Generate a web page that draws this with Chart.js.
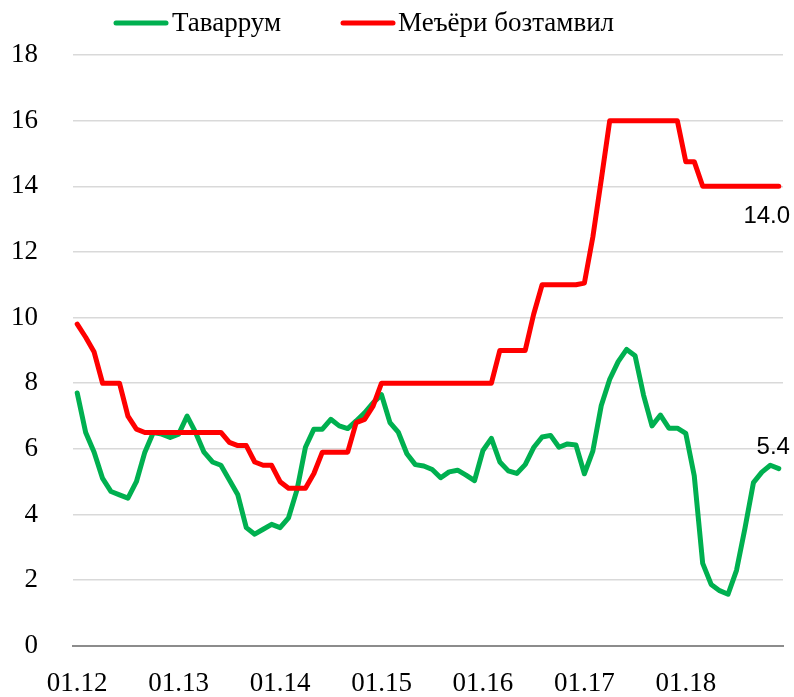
<!DOCTYPE html>
<html>
<head>
<meta charset="utf-8">
<script src="https://cdn.jsdelivr.net/npm/chart.js@4.4.1/dist/chart.umd.min.js"></script>
<style>
html,body{margin:0;padding:0;background:#ffffff;}
#wrap{width:794px;height:697px;}
</style>
</head>
<body>
<div id="wrap"><canvas id="c" width="794" height="697"></canvas></div>
<script>
// ---- data ----
const months = [
  "01.12","02.12","03.12","04.12","05.12","06.12","07.12","08.12","09.12","10.12","11.12","12.12",
  "01.13","02.13","03.13","04.13","05.13","06.13","07.13","08.13","09.13","10.13","11.13","12.13",
  "01.14","02.14","03.14","04.14","05.14","06.14","07.14","08.14","09.14","10.14","11.14","12.14",
  "01.15","02.15","03.15","04.15","05.15","06.15","07.15","08.15","09.15","10.15","11.15","12.15",
  "01.16","02.16","03.16","04.16","05.16","06.16","07.16","08.16","09.16","10.16","11.16","12.16",
  "01.17","02.17","03.17","04.17","05.17","06.17","07.17","08.17","09.17","10.17","11.17","12.17",
  "01.18","02.18","03.18","04.18","05.18","06.18","07.18","08.18","09.18","10.18","11.18","12.18"
];
const seriesNames = ["Таваррум", "Меъёри бозтамвил"];
const inflation = [
  7.7, 6.5, 5.9, 5.1, 4.7, 4.6, 4.5, 5.0, 5.9, 6.5, 6.45, 6.35,
  6.45, 7.0, 6.5, 5.9, 5.6, 5.5, 5.05, 4.6, 3.6, 3.4, 3.55, 3.7,
  3.6, 3.9, 4.75, 6.05, 6.6, 6.6, 6.9, 6.7, 6.62, 6.85, 7.1, 7.4,
  7.65, 6.8, 6.5, 5.85, 5.52, 5.48, 5.37, 5.12, 5.3, 5.35, 5.2, 5.03,
  5.95, 6.32, 5.6, 5.33, 5.25, 5.52, 6.04, 6.36, 6.41, 6.05, 6.15, 6.12,
  5.24, 5.93, 7.32, 8.12, 8.66, 9.03, 8.84, 7.64, 6.7, 7.03, 6.63, 6.63,
  6.47, 5.18, 2.51, 1.87, 1.68, 1.57, 2.3, 3.58, 4.97, 5.29, 5.5, 5.4
];
const refinancingRate = [
  9.8, 9.4, 8.95, 8.0, 8.0, 8.0, 7.0, 6.6, 6.5, 6.5, 6.5, 6.5,
  6.5, 6.5, 6.5, 6.5, 6.5, 6.5, 6.2, 6.1, 6.1, 5.6, 5.5, 5.5,
  5.0, 4.8, 4.8, 4.8, 5.25, 5.9, 5.9, 5.9, 5.9, 6.8, 6.9, 7.3,
  8.0, 8.0, 8.0, 8.0, 8.0, 8.0, 8.0, 8.0, 8.0, 8.0, 8.0, 8.0,
  8.0, 8.0, 9.0, 9.0, 9.0, 9.0, 10.1, 11.0, 11.0, 11.0, 11.0, 11.0,
  11.05, 12.45, 14.2, 16.0, 16.0, 16.0, 16.0, 16.0, 16.0, 16.0, 16.0, 16.0,
  14.75, 14.75, 14.0, 14.0, 14.0, 14.0, 14.0, 14.0, 14.0, 14.0, 14.0, 14.0
];
const yMin = 0, yMax = 18, yStep = 2;

// ---- plugins ----
const customLegend = {
  id: 'customLegend',
  afterDraw(chart, args, opts) {
    const ctx = chart.ctx;
    ctx.save();
    chart.data.datasets.forEach((ds, i) => {
      const it = opts.items[i];
      ctx.strokeStyle = ds.borderColor;
      ctx.lineWidth = opts.lineWidth;
      ctx.lineCap = 'round';
      ctx.beginPath();
      ctx.moveTo(it.x1, opts.y);
      ctx.lineTo(it.x2, opts.y);
      ctx.stroke();
      ctx.font = opts.font;
      ctx.fillStyle = opts.color;
      ctx.textAlign = 'left';
      ctx.textBaseline = 'alphabetic';
      ctx.fillText(ds.label, it.tx, opts.baseline);
    });
    ctx.restore();
  }
};
const endLabels = {
  id: 'endLabels',
  afterDatasetsDraw(chart, args, opts) {
    const ctx = chart.ctx;
    ctx.save();
    ctx.font = opts.font;
    ctx.fillStyle = opts.color;
    ctx.textAlign = 'center';
    ctx.textBaseline = 'middle';
    chart.data.datasets.forEach((ds, i) => {
      const meta = chart.getDatasetMeta(i);
      const pt = meta.data[meta.data.length - 1];
      const v = ds.data[ds.data.length - 1];
      const off = opts.offsets[i];
      ctx.fillText(v.toFixed(1), pt.x + off.dx, pt.y + off.dy);
    });
    ctx.restore();
  }
};

new Chart(document.getElementById('c'), {
  type: 'line',
  data: {
    labels: months,
    datasets: [
      { label: seriesNames[0], data: inflation, borderColor: '#00b050', backgroundColor: '#00b050',
        borderWidth: 5, pointRadius: 0, tension: 0, fill: false, borderJoinStyle: 'round', borderCapStyle: 'round', order: 1 },
      { label: seriesNames[1], data: refinancingRate, borderColor: '#ff0000', backgroundColor: '#ff0000',
        borderWidth: 5, pointRadius: 0, tension: 0, fill: false, borderJoinStyle: 'round', borderCapStyle: 'round', order: 0 }
    ]
  },
  options: {
    responsive: false,
    animation: false,
    devicePixelRatio: 1,
    layout: { padding: { top: 55, right: 11, bottom: 0, left: 0 } },
    plugins: {
      legend: { display: false },
      tooltip: { enabled: false },
      customLegend: {
        y: 23, baseline: 31, lineWidth: 5, color: '#000000',
        font: '27px "Liberation Serif", serif',
        items: [ { x1: 116, x2: 166, tx: 172 }, { x1: 343, x2: 393, tx: 398 } ]
      },
      endLabels: {
        font: '24px "Liberation Sans", sans-serif', color: '#000000',
        offsets: [ { dx: -5.5, dy: -21.5 }, { dx: -12, dy: 30.5 } ]
      }
    },
    scales: {
      x: {
        type: 'category',
        offset: true,
        grid: { display: false, drawTicks: false },
        border: { display: true, color: '#8c8c8c', width: 2 },
        ticks: {
          autoSkip: false, maxRotation: 0, minRotation: 0, padding: 22,
          color: '#000000',
          font: { family: '"Liberation Serif", serif', size: 27 },
          callback: function(value, index) {
            const lab = this.getLabelForValue(value);
            return lab.startsWith('01.') ? lab : '';
          }
        },
        afterFit: (scale) => { scale.height = 51; scale.paddingLeft = 0; scale.paddingRight = 0; }
      },
      y: {
        min: yMin, max: yMax,
        grid: {
          drawTicks: false, lineWidth: 1.5,
          color: (ctx) => (ctx.tick && ctx.tick.value === 0) ? 'rgba(0,0,0,0)' : '#d9d9d9'
        },
        border: { display: false },
        ticks: {
          stepSize: yStep, padding: 35, color: '#000000',
          font: { family: '"Liberation Serif", serif', size: 27 }
        },
        afterFit: (scale) => { scale.width = 73; }
      }
    }
  },
  plugins: [customLegend, endLabels]
});
</script>
</body>
</html>
